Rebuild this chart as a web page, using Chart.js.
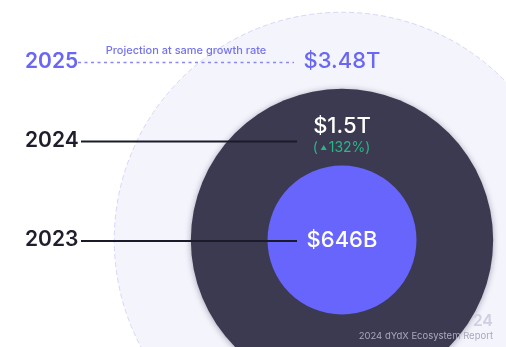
<!DOCTYPE html>
<html>
<head>
<meta charset="utf-8">
<script src="https://cdn.jsdelivr.net/npm/chart.js@4.4.1/dist/chart.umd.min.js"></script>
<style>
  html, body { margin: 0; padding: 0; background: #fff; }
  #wrap { width: 506px; height: 347px; }
</style>
</head>
<body>
<div id="wrap"><canvas id="rings"></canvas></div>
<script>
// values in trillions of USD
const years = ['2023', '2024', '2025'];
const volumes = [0.646, 1.5, 3.48];
const valueLabels = ['$646B', '$1.5T', '$3.48T'];
const growthLabel = '132%';
const projectionNote = 'Projection at same growth rate';

const fills = ['#6765fc', '#3b3a51', '#f4f4fd'];

// circles are sized off a hidden log axis so the small ring stays readable
function ringRadius(ctx) {
    const s = ctx.chart.scales.rad;
    if (!s || s.left === undefined || !ctx.raw) return 0;
    return s.getPixelForValue(ctx.raw.v) - s.left;
}

const ringStyle = {
    id: 'ringStyle',
    beforeDatasetDraw(chart, args) {
        const c = chart.ctx;
        c.save();
        if (args.index === 2) {
            c.setLineDash([5, 3]);
        }
        if (args.index === 1) {
            c.shadowColor = 'rgba(20, 20, 40, 0.35)';
            c.shadowBlur = 6;
            c.shadowOffsetY = 1;
        }
    },
    afterDatasetDraw(chart) {
        chart.ctx.restore();
    }
};

const labels = {
    id: 'labels',
    afterDraw(chart) {
        const c = chart.ctx;
        const cx = chart.scales.x.getPixelForValue(0);
        c.save();
        c.textBaseline = 'middle';

        // 2025 projection row
        c.fillStyle = '#6967f4';
        c.font = '600 21px Inter';
        c.textAlign = 'left';
        c.fillText(years[2], 25, 62);
        c.font = '500 22px Inter';
        c.textAlign = 'center';
        c.fillText(valueLabels[2], cx, 61);
        c.font = '500 11px Inter';
        c.fillStyle = '#7472ee';
        c.fillText(projectionNote, 186, 51);
        c.strokeStyle = '#8b89f1';
        c.lineWidth = 1.3;
        c.setLineDash([3, 3.5]);
        c.beginPath();
        c.moveTo(78, 62.5);
        c.lineTo(294, 62.5);
        c.stroke();
        c.setLineDash([]);

        // 2024 and 2023 rows
        const rows = [[1, 141.5], [0, 241]];
        rows.forEach(([i, y]) => {
            c.fillStyle = '#1f1e2d';
            c.font = '600 21px Inter';
            c.textAlign = 'left';
            c.fillText(years[i], 25, y - 1);
            c.strokeStyle = '#1b1a28';
            c.lineWidth = 2;
            c.beginPath();
            c.moveTo(81, y);
            c.lineTo(297, y);
            c.stroke();
        });

        c.fillStyle = '#ffffff';
        c.textAlign = 'center';
        c.font = '500 22px Inter';
        c.fillText(valueLabels[1], cx, 126);
        c.fillText(valueLabels[0], cx, 240);

        // growth badge
        c.fillStyle = '#2bb686';
        c.font = '400 14px Inter';
        const tw = c.measureText(growthLabel).width;
        const x0 = cx - (tw + 22) / 2;
        c.textAlign = 'left';
        c.fillText('(', x0, 148);
        c.beginPath();
        c.moveTo(x0 + 8, 150);
        c.lineTo(x0 + 14, 150);
        c.lineTo(x0 + 11, 145);
        c.closePath();
        c.fill();
        c.fillText(growthLabel, x0 + 16, 148);
        c.fillText(')', x0 + 16 + tw, 148);

        // footer
        c.textAlign = 'right';
        c.fillStyle = '#cfcfe1';
        c.font = '600 16px Inter';
        c.fillText('24', 493, 321);
        c.fillStyle = '#a9a8bd';
        c.font = '400 9.5px Inter';
        c.fillText('2024 dYdX Ecosystem Report', 493, 336);
        c.restore();
    }
};

const chart = new Chart(document.getElementById('rings'), {
    type: 'scatter',
    data: {
        datasets: years.map((y, i) => ({
            label: y,
            data: [{x: 0, y: 0, v: volumes[i]}],
            pointBackgroundColor: fills[i],
            pointBorderColor: i === 2 ? '#d6d5f7' : fills[i],
            pointBorderWidth: i === 2 ? 1 : 0,
            pointRadius: ringRadius,
            showLine: false,
            clip: false
        }))
    },
    options: {
        responsive: true,
        maintainAspectRatio: false,
        animation: false,
        events: [],
        layout: { padding: 0, autoPadding: false },
        plugins: {
            legend: { display: false },
            tooltip: { enabled: false }
        },
        scales: {
            x: { type: 'linear', display: false, min: -342, max: 164 },
            y: { type: 'linear', display: false, min: -107, max: 240 },
            rad: { type: 'logarithmic', axis: 'x', display: false, min: 0.285, max: 74 }
        }
    },
    plugins: [ringStyle, labels]
});
</script>
</body>
</html>
